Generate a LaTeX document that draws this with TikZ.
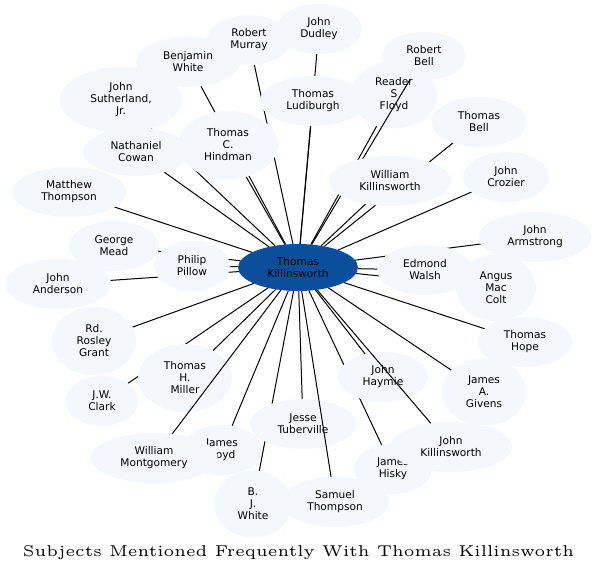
\documentclass[tikz,border=0pt]{standalone}
\usepackage{fontspec}
\usetikzlibrary{shapes.geometric}
\newfontfamily\nodefont{DejaVu Sans}
\definecolor{nodefill}{HTML}{F4F8FE}
\definecolor{hubfill}{HTML}{0B4F9C}
\pgfdeclarelayer{edgeA}
\pgfdeclarelayer{nodeA}
\pgfdeclarelayer{edgeB}
\pgfsetlayers{edgeA,nodeA,edgeB,main}
\tikzset{
  person/.style={ellipse, fill=nodefill, inner sep=0pt, outer sep=0pt, align=center,
    font=\nodefont\fontsize{10.6pt}{12pt}\selectfont},
  hub/.style={person, fill=hubfill, text=black},
  link/.style={draw=black, line width=1pt},
  titletext/.style={inner sep=0pt, anchor=base, scale=3.14}
}
\begin{document}
\begin{tikzpicture}[x=1pt,y=-1pt]
\path[use as bounding box] (0,0) rectangle (597,574);
% nodes drawn under some connectors
\begin{pgfonlayer}{nodeA}
\node[person, minimum width=86pt, minimum height=67pt] (reader) at (394,95) {Reader\\S\\Floyd};
\node[person, minimum width=106pt, minimum height=50pt] (jesse) at (303,424) {Jesse\\Tuberville};
\node[person, minimum width=90pt, minimum height=50pt] (haymie) at (383,377) {John\\Haymie};
\node[person, minimum width=94pt, minimum height=68pt] (miller) at (185,378) {Thomas\\H.\\Miller};
\node[person, minimum width=78pt, minimum height=50pt] (hisky) at (393,469) {James\\Hisky};
\node[person, minimum width=80pt, minimum height=50pt] (boyd) at (222,450) {James\\Boyd};
\end{pgfonlayer}
% other nodes
\node[hub, minimum width=120pt, minimum height=47pt] (c) at (298,267.5) {Thomas\\Killinsworth};
\node[person, minimum width=84pt, minimum height=50pt] (rmurray) at (249,40) {Robert\\Murray};
\node[person, minimum width=86pt, minimum height=50pt] (jdudley) at (319,29) {John\\Dudley};
\node[person, minimum width=104pt, minimum height=50pt] (bwhite) at (188,62) {Benjamin\\White};
\node[person, minimum width=122pt, minimum height=66pt] (suther) at (121,100) {John\\Sutherland,\\Jr.};
\node[person, minimum width=106pt, minimum height=50pt] (ludi) at (313,101) {Thomas\\Ludiburgh};
\node[person, minimum width=84pt, minimum height=48pt] (rbell) at (424,56) {Robert\\Bell};
\node[person, minimum width=95pt, minimum height=50pt] (tbell) at (479,122) {Thomas\\Bell};
\node[person, minimum width=106pt, minimum height=48pt] (cowan) at (136,152) {Nathaniel\\Cowan};
\node[person, minimum width=100pt, minimum height=68pt] (hindman) at (228,145) {Thomas\\C.\\Hindman};
\node[person, minimum width=122pt, minimum height=50pt] (wkill) at (390,181) {William\\Killinsworth};
\node[person, minimum width=86pt, minimum height=50pt] (crozier) at (506,177) {John\\Crozier};
\node[person, minimum width=114pt, minimum height=50pt] (mthompson) at (69,192) {Matthew\\Thompson};
\node[person, minimum width=113pt, minimum height=50pt] (armstrong) at (535,237) {John\\Armstrong};
\node[person, minimum width=90pt, minimum height=50pt] (mead) at (114,246) {George\\Mead};
\node[person, minimum width=76pt, minimum height=50pt] (pillow) at (192,266) {Philip\\Pillow};
\node[person, minimum width=106pt, minimum height=50pt] (anderson) at (58,284) {John\\Anderson};
\node[person, minimum width=80pt, minimum height=67pt] (colt) at (496,288) {Angus\\Mac\\Colt};
\node[person, minimum width=95pt, minimum height=50pt] (walsh) at (425,270) {Edmond\\Walsh};
\node[person, minimum width=84pt, minimum height=68pt] (grant) at (94,341) {Rd.\\Rosley\\Grant};
\node[person, minimum width=95pt, minimum height=50pt] (hope) at (525,342) {Thomas\\Hope};
\node[person, minimum width=73pt, minimum height=50pt] (clark) at (102,401) {J.W.\\Clark};
\node[person, minimum width=85pt, minimum height=67pt] (givens) at (484,392) {James\\A.\\Givens};
\node[person, minimum width=127pt, minimum height=50pt] (montgomery) at (154,458) {William\\Montgomery};
\node[person, minimum width=122pt, minimum height=50pt] (jkill) at (451,447) {John\\Killinsworth};
\node[person, minimum width=78pt, minimum height=67pt] (bjwhite) at (253,504) {B.\\J.\\White};
\node[person, minimum width=108pt, minimum height=50pt] (sthompson) at (335,502) {Samuel\\Thompson};
% connectors under the nodes
\begin{pgfonlayer}{edgeA}
\foreach \n in {rmurray,jdudley,bwhite,suther,ludi,reader,tbell,cowan,hindman,wkill,crozier,
  mthompson,armstrong,mead,pillow,anderson,colt,walsh,grant,hope,clark,givens,miller,haymie,
  jesse,boyd,hisky,bjwhite}
  \draw[link] (c) -- (\n);
\end{pgfonlayer}
% connectors over the first nodes
\begin{pgfonlayer}{edgeB}
\foreach \n in {rbell,sthompson,jkill,montgomery}
  \draw[link] (c) -- (\n);
\end{pgfonlayer}
\node[titletext] (title) at (298.5,556) {\fontsize{5pt}{6pt}\selectfont Subjects Mentioned Frequently With Thomas Killinsworth};
\end{tikzpicture}
\end{document}
